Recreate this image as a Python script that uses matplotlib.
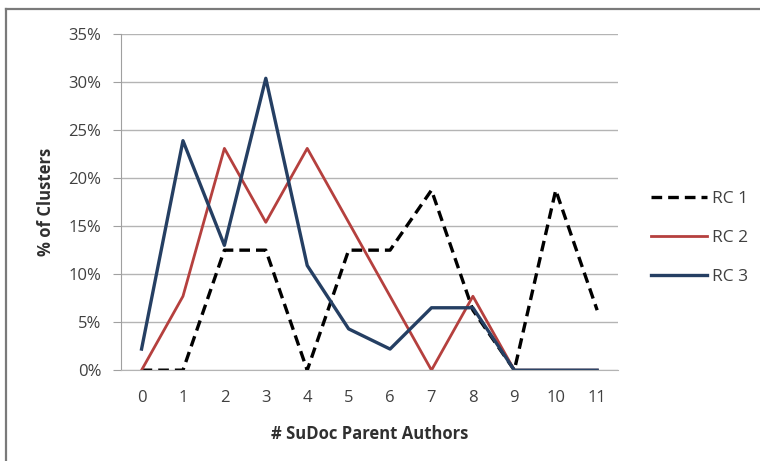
import matplotlib
matplotlib.use("Agg")
import matplotlib.pyplot as plt
from matplotlib.lines import Line2D
from matplotlib.ticker import PercentFormatter

# Datos (porcentaje de clusters)
autores = [0, 1, 2, 3, 4, 5, 6, 7, 8, 9, 10, 11]
rc1 = [0, 0, 12.5, 12.5, 0, 12.5, 12.5, 18.75, 6.25, 0, 18.75, 6.25]
rc2 = [0, 7.7, 23.1, 15.4, 23.1, 15.4, 7.7, 0, 7.7, 0, 0, 0]
rc3 = [2.2, 23.9, 13.0, 30.4, 10.9, 4.3, 2.2, 6.5, 6.5, 0, 0, 0]
y_ticks = [0, 5, 10, 15, 20, 25, 30, 35]

plt.rcParams["font.family"] = ["Open Sans", "DejaVu Sans"]

fig = plt.figure(figsize=(7.6, 4.61), dpi=100)
ax = fig.add_axes([0.159, 0.197, 0.654, 0.729])

ax.plot(autores, rc1, color="black", lw=2.4, ls=(0, (3.2, 1.8)), label="RC 1")
ax.plot(autores, rc2, color="#b5403e", lw=2.0, label="RC 2")
ax.plot(autores, rc3, color="#253f63", lw=2.4, label="RC 3")

ax.set_xlim(-0.5, 11.5)
ax.set_ylim(0, 35)
ax.set_xticks(autores)
ax.set_yticks(y_ticks)
ax.yaxis.set_major_formatter(PercentFormatter(decimals=0))
ax.grid(axis="y", color="#b4b4b4", lw=1)
ax.set_axisbelow(True)

for s in ["top", "right"]:
    ax.spines[s].set_visible(False)
ax.spines["left"].set_color("#a0a0a0")
ax.spines["bottom"].set_color("#b4b4b4")
ax.tick_params(axis="y", length=6, color="#a0a0a0", labelsize=12,
               labelcolor="#404040", pad=8)
ax.tick_params(axis="x", length=0, labelsize=12, labelcolor="#404040", pad=14)

ax.set_xlabel("# SuDoc Parent Authors", fontsize=12, fontweight="bold",
              color="#303030", labelpad=14)
ax.set_ylabel("% of Clusters", fontsize=12, fontweight="bold",
              color="#303030", labelpad=10)

ax.legend(loc="center left", bbox_to_anchor=(0.836, 0.484),
          bbox_transform=fig.transFigure, frameon=False, fontsize=12.5,
          handlelength=3.2, handletextpad=0.3, labelspacing=1.3,
          labelcolor="#404040")

# Marco del gráfico (borde superior e izquierdo)
fig.add_artist(Line2D([6 / 760, 1], [1 - 9.5 / 461] * 2,
                      transform=fig.transFigure, color="#7a7a7a", lw=1.6))
fig.add_artist(Line2D([6 / 760] * 2, [0, 1 - 9.5 / 461],
                      transform=fig.transFigure, color="#7a7a7a", lw=1.6))

fig.savefig("out.png", dpi=100)
